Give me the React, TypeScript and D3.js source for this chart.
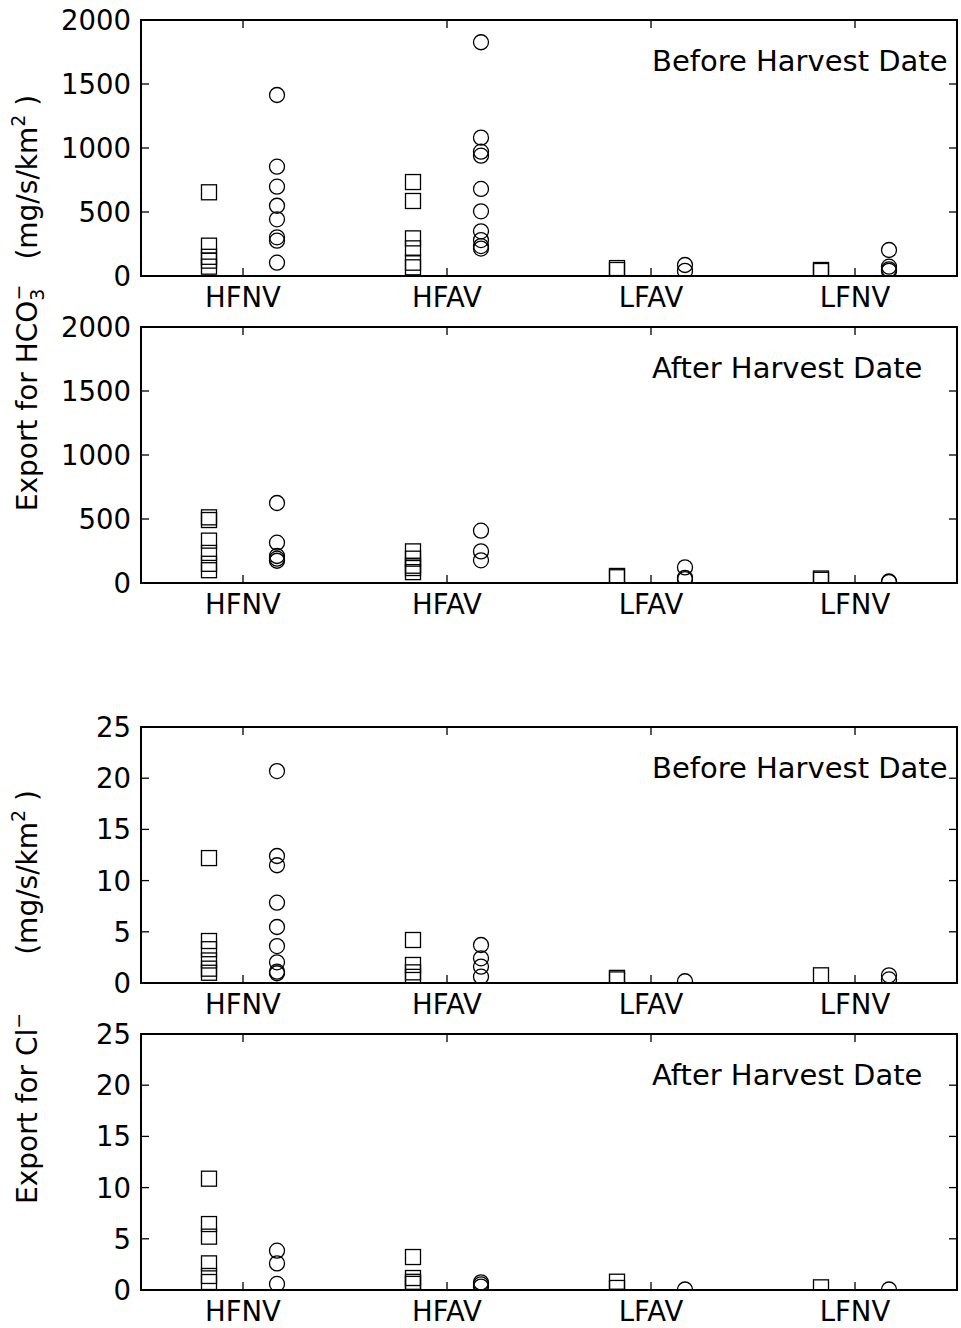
import React from "react";
import * as d3 from "d3";

const categories = ["HFNV", "HFAV", "LFAV", "LFNV"];
const hco3Ticks = [0, 500, 1000, 1500, 2000];
const clTicks = [0, 5, 10, 15, 20, 25];

const hco3BeforeSquares = [[654, 237, 150, 120, 73], [734, 586, 294, 216, 104, 68], [62, 47], [47, 39]];
const hco3BeforeCircles = [[1414, 854, 698, 549, 443, 302, 276, 104], [1826, 1081, 971, 940, 680, 505, 349, 281, 234, 214], [86, 40], [203, 73, 52, 40]];
const hco3AfterSquares = [[513, 492, 331, 235, 150, 100], [247, 190, 135, 117, 85], [55, 45], [35, 25]];
const hco3AfterCircles = [[625, 315, 211, 190, 174], [409, 247, 177], [122, 40, 30], [12, 8]];
const clBeforeSquares = [[12.2, 4.1, 3.3, 2.2, 1.4, 1.0], [4.2, 1.76, 1.04, 0.6], [0.5, 0.35], [0.75]];
const clBeforeCircles = [[20.7, 12.4, 11.5, 7.84, 5.47, 3.61, 2.02, 1.11, 0.95], [3.71, 2.41, 1.6, 0.62], [0.17], [0.75, 0.35]];
const clAfterSquares = [[10.87, 6.44, 5.21, 2.6, 1.37, 0.78], [3.22, 1.17, 0.8, 0.6], [0.81, 0.2], [0.26]];
const clAfterCircles = [[3.84, 2.6, 0.59], [0.75, 0.55, 0.33], [0.05], [0.05]];

const panels = [
  { top: 20, max: 2000, ticks: hco3Ticks, squares: hco3BeforeSquares, circles: hco3BeforeCircles, title: "Before Harvest Date" },
  { top: 327, max: 2000, ticks: hco3Ticks, squares: hco3AfterSquares, circles: hco3AfterCircles, title: "After Harvest Date" },
  { top: 727, max: 25, ticks: clTicks, squares: clBeforeSquares, circles: clBeforeCircles, title: "Before Harvest Date" },
  { top: 1034, max: 25, ticks: clTicks, squares: clAfterSquares, circles: clAfterCircles, title: "After Harvest Date" },
];

const W = 961;
const H = 1328;
const LEFT = 141;
const RIGHT = 957;
const PH = 256;
const FONT = "DejaVu Sans, sans-serif";
const MS = 15;
const TL = 8;

function Panel({ p, idx }: { p: any; idx: number }) {
  const x = d3.scaleLinear().domain([0, categories.length]).range([LEFT, RIGHT]);
  const y = d3.scaleLinear().domain([0, p.max]).range([p.top + PH, p.top]);
  const clipId = `clip${idx}`;
  const bottom = p.top + PH;
  return (
    <g>
      <defs>
        <clipPath id={clipId}>
          <rect x={LEFT} y={p.top} width={RIGHT - LEFT} height={PH} />
        </clipPath>
      </defs>
      <g clipPath={`url(#${clipId})`}>
        {p.squares.map((vals: number[], ci: number) =>
          vals.map((v, k) => (
            <rect
              key={`s${ci}-${k}`}
              x={x(ci + 1 / 3) - MS / 2}
              y={y(v) - MS / 2}
              width={MS}
              height={MS}
              fill="none"
              stroke="#000"
              strokeWidth={1.3}
            />
          ))
        )}
        {p.circles.map((vals: number[], ci: number) =>
          vals.map((v, k) => (
            <circle
              key={`c${ci}-${k}`}
              cx={x(ci + 2 / 3)}
              cy={y(v)}
              r={MS / 2}
              fill="none"
              stroke="#000"
              strokeWidth={1.3}
            />
          ))
        )}
      </g>
      {/* x ticks */}
      {categories.map((c, i) => (
        <g key={c}>
          <line x1={x(i + 0.5)} x2={x(i + 0.5)} y1={bottom} y2={bottom - TL} stroke="#000" strokeWidth={1.3} />
          <line x1={x(i + 0.5)} x2={x(i + 0.5)} y1={p.top} y2={p.top + TL} stroke="#000" strokeWidth={1.3} />
          <text x={x(i + 0.5)} y={bottom + 30.5} textAnchor="middle" fontSize={27.5} fontFamily={FONT}>
            {c}
          </text>
        </g>
      ))}
      {/* y ticks */}
      {p.ticks.map((t: number) => (
        <g key={t}>
          <line x1={LEFT} x2={LEFT + TL} y1={y(t)} y2={y(t)} stroke="#000" strokeWidth={1.3} />
          <line x1={RIGHT} x2={RIGHT - TL} y1={y(t)} y2={y(t)} stroke="#000" strokeWidth={1.3} />
          <text x={LEFT - 10} y={y(t) + 10} textAnchor="end" fontSize={27.5} fontFamily={FONT}>
            {t}
          </text>
        </g>
      ))}
      <rect x={LEFT} y={p.top} width={RIGHT - LEFT} height={PH} fill="none" stroke="#000" strokeWidth={2} />
      <text x={652} y={p.top + 51} fontSize={29} fontFamily={FONT}>
        {p.title}
      </text>
    </g>
  );
}

export default function App() {
  return (
    <svg
      width={W}
      height={H}
      style={{ position: "absolute", left: 0, top: 0, display: "block", background: "#fff" }}
    >
      <rect x={0} y={0} width={W} height={H} fill="#fff" />
      {panels.map((p, i) => (
        <Panel key={i} p={p} idx={i} />
      ))}
      <text
        transform="translate(37, 303) rotate(-90)"
        textAnchor="middle"
        fontSize={28}
        fontFamily={FONT}
        style={{ whiteSpace: "pre" }}
      >
        <tspan>Export for HCO</tspan>
        <tspan fontSize={19} dy={7}>3</tspan>
        <tspan fontSize={19} dx={-12} dy={-19}>−</tspan>
        <tspan dx={25} dy={12}>(mg/s/km</tspan>
        <tspan fontSize={19} dy={-12}>2</tspan>
        <tspan dy={12}> )</tspan>
      </text>
      <text
        transform="translate(37, 997) rotate(-90)"
        textAnchor="middle"
        fontSize={28}
        fontFamily={FONT}
        style={{ whiteSpace: "pre" }}
      >
        <tspan>Export for Cl</tspan>
        <tspan fontSize={19} dy={-12}>−</tspan>
        <tspan dx={58} dy={12}>(mg/s/km</tspan>
        <tspan fontSize={19} dy={-12}>2</tspan>
        <tspan dy={12}> )</tspan>
      </text>
    </svg>
  );
}
